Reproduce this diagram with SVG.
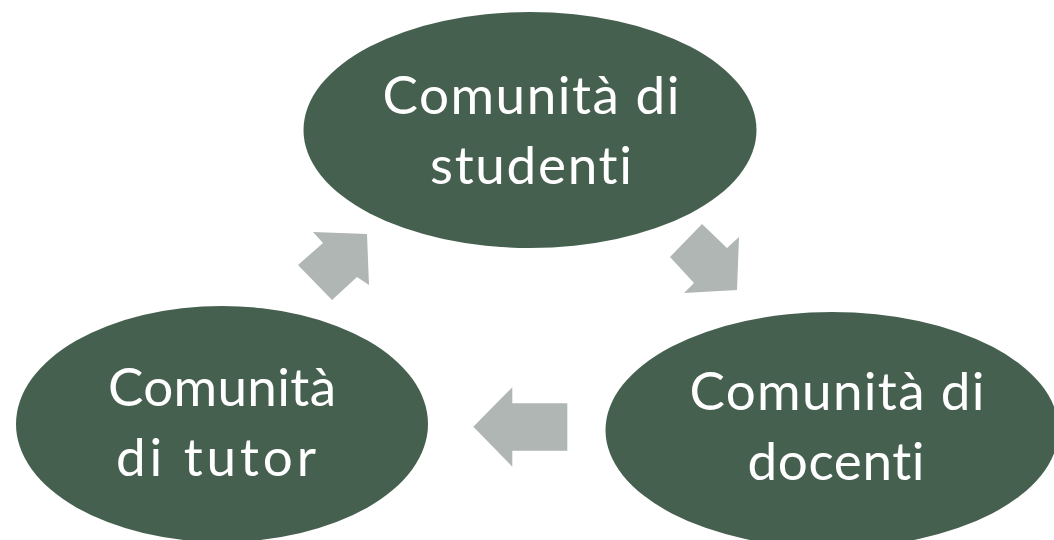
<svg xmlns="http://www.w3.org/2000/svg" width="1054" height="540" viewBox="0 0 1054 540">
<style>
.node{fill:#466050;}
.lbl{fill:#ffffff;font-family:Lato,"Open Sans","DejaVu Sans",sans-serif;font-weight:400;font-size:53px;text-anchor:middle;font-variant-ligatures:none;font-feature-settings:"liga" 0;}
.arr{fill:#b0b6b3;}
</style>
<rect width="1054" height="540" fill="#ffffff"/>
<g id="connectors">
<polygon class="arr" points="367,234 313,232 323,243 298,265 332,300 357,277 369,285"/>
<polygon class="arr" points="702,224 670,257 694,283 684,293 737,290 739,237 727,248"/>
<polygon class="arr" points="473.3,426.7 512.3,387.3 512.3,403.3 567.3,403.3 567.3,450.7 512.3,450.7 512.3,466.7"/>
</g>
<g id="node-studenti">
<ellipse class="node" cx="530" cy="130" rx="226.5" ry="118"/>
<text class="lbl" x="531" y="114" textLength="297" lengthAdjust="spacing">Comunità di</text>
<text class="lbl" x="531" y="184" textLength="202" lengthAdjust="spacing">studenti</text>
</g>
<g id="node-tutor">
<ellipse class="node" cx="222" cy="424" rx="206" ry="118"/>
<text class="lbl" x="222" y="406" textLength="228" lengthAdjust="spacing">Comunità</text>
<text class="lbl" x="216" y="476" textLength="200" lengthAdjust="spacing">di tutor</text>
</g>
<g id="node-docenti">
<ellipse class="node" cx="832" cy="430" rx="226.5" ry="118"/>
<text class="lbl" x="837" y="410" textLength="295" lengthAdjust="spacing">Comunità di</text>
<text class="lbl" x="836" y="480" textLength="177" lengthAdjust="spacing">docenti</text>
</g>
</svg>
